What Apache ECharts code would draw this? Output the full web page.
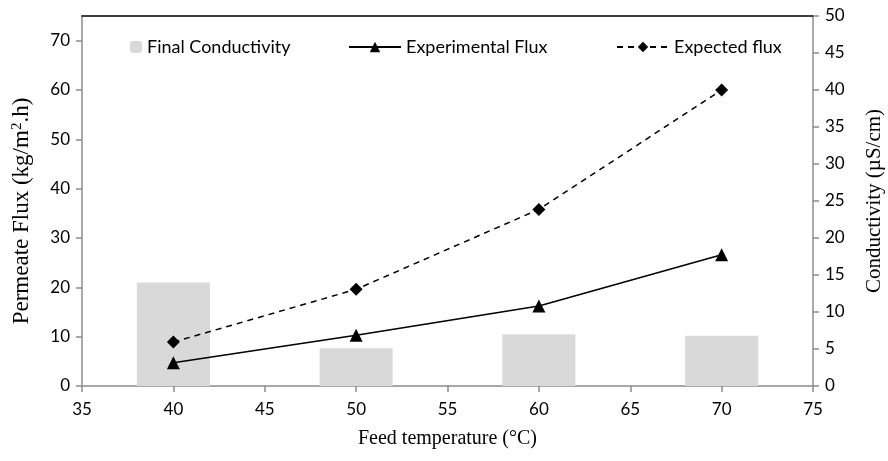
<!DOCTYPE html>
<html>
<head>
<meta charset="utf-8">
<script src="https://cdn.jsdelivr.net/npm/echarts@6/dist/echarts.min.js"></script>
<style>
html,body{margin:0;padding:0;background:#fff;}
#c{width:888px;height:461px;}
</style>
</head>
<body>
<div id="c"></div>
<script>
var temperatures = [40, 50, 60, 70];
var conductivity = [14.0, 5.1, 7.0, 6.8];
var experimentalFlux = [4.7, 10.3, 16.2, 26.6];
var expectedFlux = [8.9, 19.6, 35.8, 60.0];
var leftTicks = [0, 10, 20, 30, 40, 50, 60, 70];

function pairs(xs, ys) { return xs.map(function (x, i) { return [x, ys[i]]; }); }

var tickFont = { fontFamily: 'Lato', fontSize: 17, color: '#000' };
var titleFont = { fontFamily: 'Liberation Serif', fontSize: 20, color: '#000' };
var legendFont = { fontFamily: 'Lato', fontSize: 18, color: '#000' };
var axisGray = { color: '#8c8c8c', width: 1.5 };

var chart = echarts.init(document.getElementById('c'));
chart.setOption({
  animation: false,
  backgroundColor: '#fff',
  grid: { left: 82, right: 75, top: 16, bottom: 75, containLabel: false, outerBoundsMode: 'none' },
  legend: [
    { data: ['Final Conductivity'], left: 125, top: 33, itemWidth: 12, itemHeight: 12, itemGap: 4,
      textStyle: legendFont },
    { data: ['Experimental Flux'], left: 343, top: 33, itemWidth: 52, itemHeight: 13,
      textStyle: legendFont },
    { data: ['Expected flux'], left: 611, top: 33, itemWidth: 52, itemHeight: 13,
      textStyle: legendFont }
  ],
  xAxis: [
    { type: 'value', min: 35, max: 75, interval: 5, position: 'bottom',
      name: 'Feed temperature (°C)', nameLocation: 'middle', nameGap: 43, nameTextStyle: titleFont,
      axisLine: { show: true, onZero: false, lineStyle: axisGray },
      axisTick: { show: true, inside: false, length: 6, lineStyle: axisGray },
      axisLabel: Object.assign({ margin: 15 }, tickFont),
      splitLine: { show: false } },
    { type: 'value', min: 35, max: 75, position: 'top',
      axisLine: { show: true, onZero: false, lineStyle: { color: '#000', width: 1.5 } },
      axisTick: { show: false }, axisLabel: { show: false }, splitLine: { show: false } }
  ],
  yAxis: [
    { type: 'value', min: 0, max: 75, interval: 10, position: 'left',
      name: 'Permeate Flux (kg/m{sup|2}.h)', nameLocation: 'middle', nameGap: 49,
      nameTextStyle: { fontFamily: 'Liberation Serif', fontSize: 23, color: '#000', padding: [0, 20, 0, 0],
        rich: { sup: { fontFamily: 'Liberation Serif', fontSize: 15, color: '#000', verticalAlign: 'top', lineHeight: 23 } } },
      axisLine: { show: true, onZero: false, lineStyle: axisGray },
      axisTick: { show: true, length: 6, lineStyle: axisGray, customValues: leftTicks },
      axisLabel: Object.assign({ margin: 12, customValues: leftTicks }, tickFont),
      splitLine: { show: false } },
    { type: 'value', min: 0, max: 50, interval: 5, position: 'right',
      name: 'Conductivity (µS/cm)', nameLocation: 'middle', nameGap: 51,
      nameTextStyle: { fontFamily: 'Liberation Serif', fontSize: 21, color: '#000' },
      axisLine: { show: true, onZero: false, lineStyle: axisGray },
      axisTick: { show: true, length: 6, lineStyle: axisGray },
      axisLabel: Object.assign({ margin: 12 }, tickFont),
      splitLine: { show: false } }
  ],
  series: [
    { name: 'Final Conductivity', type: 'bar', xAxisIndex: 0, yAxisIndex: 1,
      data: pairs(temperatures, conductivity), barWidth: 73,
      itemStyle: { color: '#d9d9d9' }, z: 1 },
    { name: 'Experimental Flux', type: 'line', xAxisIndex: 0, yAxisIndex: 0,
      data: pairs(temperatures, experimentalFlux),
      symbol: 'triangle', symbolSize: 13,
      itemStyle: { color: '#000' }, lineStyle: { color: '#000', width: 1.5 }, z: 3 },
    { name: 'Expected flux', type: 'line', xAxisIndex: 0, yAxisIndex: 0,
      data: pairs(temperatures, expectedFlux),
      symbol: 'diamond', symbolSize: 13,
      itemStyle: { color: '#000' }, lineStyle: { color: '#000', width: 1.5, type: [6, 5] }, z: 3 }
  ]
});
</script>
</body>
</html>
